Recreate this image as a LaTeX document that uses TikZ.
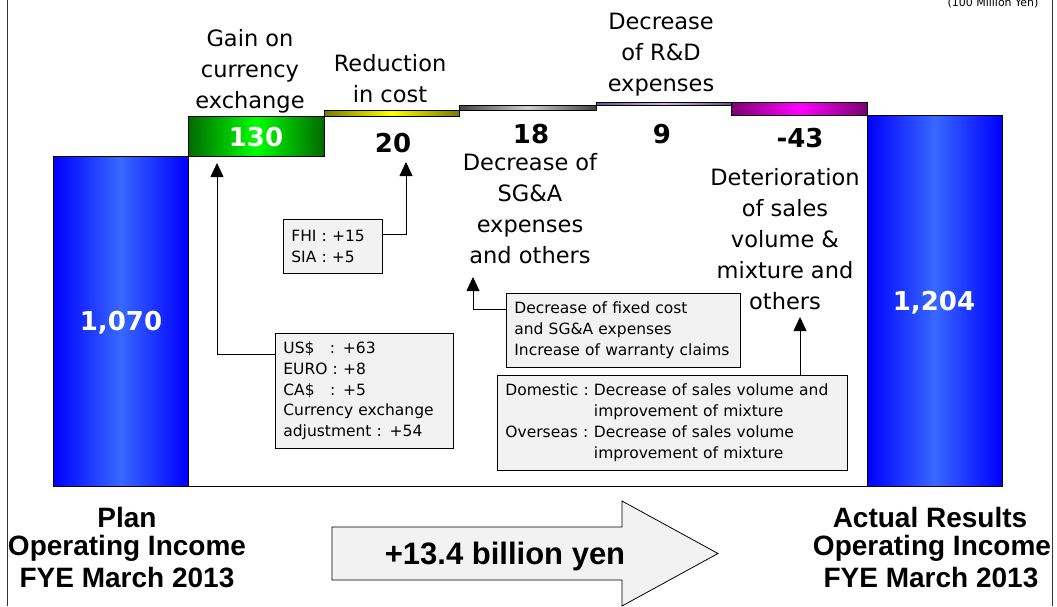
\documentclass[tikz,border=0pt]{standalone}
\usepackage{fontspec}
\setmainfont{DejaVu Sans}
\newfontfamily\arialfont{Liberation Sans}
\usetikzlibrary{arrows.meta}
\definecolor{blueE}{HTML}{0000FF}
\definecolor{blueC}{HTML}{3868FF}
\definecolor{greenE}{HTML}{006A00}
\definecolor{greenC}{HTML}{00FF00}
\definecolor{yelE}{HTML}{7A7A00}
\definecolor{yelC}{HTML}{FFFF00}
\definecolor{grayE}{HTML}{444444}
\definecolor{grayC}{HTML}{CCCCCC}
\definecolor{purE}{HTML}{6A4E9E}
\definecolor{purC}{HTML}{CFB0FF}
\definecolor{magE}{HTML}{7A0070}
\definecolor{magC}{HTML}{FF00FF}
\definecolor{noteGray}{HTML}{F2F2F2}
\tikzset{
  bar/.style={draw=black, line width=0.9pt},
  lab/.style={font=\fontsize{22.5}{31}\selectfont, align=center, inner sep=0pt},
  num/.style={font=\bfseries\fontsize{26}{30}\selectfont, inner sep=0pt},
  note/.style={draw=black, fill=noteGray, line width=0.8pt, font=\fontsize{15.5}{20.7}\selectfont,
    align=left, anchor=north west, inner xsep=8pt, inner ysep=0pt},
  conn/.style={line width=0.8pt, -{Triangle[width=13pt,length=14pt]}},
  bottomlab/.style={font=\arialfont\bfseries\fontsize{28}{30}\selectfont, inner sep=0pt},
  frameline/.style={line width=1pt, draw=black!80}
}
\begin{document}
\begin{tikzpicture}[x=1pt,y=-1pt]
\useasboundingbox (0,0) rectangle (1057,606);
% frame
\draw[frameline] (7,0) -- (7,606);
\draw[frameline] (1052,0) -- (1052,606);
\node[font=\fontsize{11}{12}\selectfont, inner sep=0pt, anchor=base] (unit) at (993,6.5) {(100 Million Yen)};
% bars
\path[bar, left color=blueE, right color=blueE, middle color=blueC] (53,156.8) rectangle (188,486);
\path[bar, left color=greenE, right color=greenE, middle color=greenC] (188,116.8) rectangle (324,156.8);
\path[bar, left color=yelE, right color=yelE, middle color=yelC] (324,110.6) rectangle (459,116.8);
\path[bar, left color=grayE, right color=grayE, middle color=grayC] (459,105.1) rectangle (596,110.6);
\path[bar, left color=purE, right color=purE, middle color=purC] (596,102.4) rectangle (731,105.1);
\path[bar, left color=magE, right color=magE, middle color=magC] (731,102.4) rectangle (867,115.6);
\path[bar, left color=blueE, right color=blueE, middle color=blueC] (867,115.6) rectangle (1002,486);
\draw[line width=1pt] (53,486.5) -- (1002,486.5);
% numbers
\node[num, text=white] (n1070) at (121,323) {1,070};
\node[num, text=white] (n130) at (256,137) {130};
\node[num] (n20) at (393,143) {20};
\node[num] (n18) at (531,134) {18};
\node[num] (n9) at (662,134) {9};
\node[num] (n43) at (800,138) {-43};
\node[num, text=white] (n1204) at (934,303) {1,204};
% labels
\node[lab] (lgain) at (250,71) {Gain on\\currency\\exchange};
\node[lab] (lred) at (390,79) {Reduction\\in cost};
\node[lab] (lrd) at (661,55) {Decrease\\of R\&D\\expenses};
\node[lab] (lsga) at (530,208.5) {Decrease of\\SG\&A\\expenses\\and others};
\node[lab] (ldet) at (785,239) {Deterioration\\of sales\\volume \&\\mixture and\\others};
% notes
\node[note, minimum height=54pt, text width=83pt] (fhi) at (283,219) {FHI : +15\\SIA : +5};
\node[note, minimum height=115pt, text width=162pt] (cur) at (275,333) {US\$\hspace{1em}: +63\\EURO : +8\\CA\$\hspace{1em}: +5\\Currency exchange\\adjustment : +54};
\node[note, minimum height=74pt, text width=218pt] (sga) at (506,293) {Decrease of fixed cost\\and SG\&A expenses\\Increase of warranty claims};
\node[note, minimum height=95pt, text width=334pt, inner xsep=8pt] (dom) at (497,375) {\begin{tabular}{@{}l@{\ }l@{}}Domestic :&Decrease of sales volume and\\ &improvement of mixture\\Overseas :&Decrease of sales volume\\ &improvement of mixture\end{tabular}};
% connectors
\coordinate (t130) at (217,163);
\coordinate (t20) at (406,162);
\coordinate (t18) at (473,277);
\coordinate (t43) at (800,317);
\coordinate (y354) at (0,354);
\coordinate (y234) at (0,234);
\coordinate (y309) at (0,309);
\draw[conn] (cur.west |- y354) -| (t130);
\draw[conn] (fhi.east |- y234) -| (t20);
\draw[conn] (sga.west |- y309) -| (t18);
\draw[conn] (dom.north -| t43) -- (t43);
% bottom
\node[bottomlab] (pl1) at (127,517) {Plan};
\node[bottomlab] (pl2) at (127,548) {Operating Income};
\node[bottomlab] (pl3) at (127,578) {FYE March 2013};
\node[bottomlab] (ac1) at (930,517) {Actual Results};
\node[bottomlab] (ac2) at (932,548) {Operating Income};
\node[bottomlab] (ac3) at (931,578) {FYE March 2013};
\draw[line width=0.8pt, fill=noteGray] (332,527) -- (622,527) -- (622,501) -- (718,553.5) -- (622,606) -- (622,580) -- (332,580) -- cycle;
\node[font=\arialfont\bfseries\fontsize{31}{33}\selectfont, inner sep=0pt] (gain) at (505,556) {+13.4 billion yen};
\end{tikzpicture}
\end{document}
